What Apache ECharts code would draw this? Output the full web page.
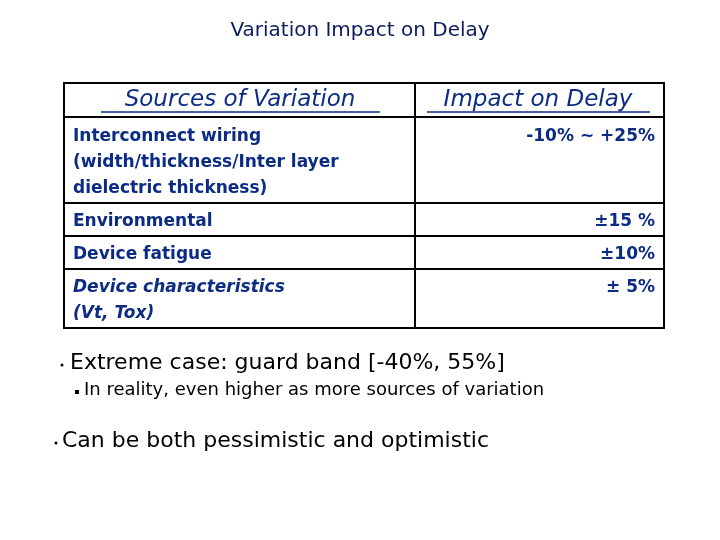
<!DOCTYPE html>
<html><head><meta charset="utf-8">
<script src="https://cdn.jsdelivr.net/npm/echarts@6/dist/echarts.min.js"></script>
<style>html,body{margin:0;padding:0;background:#fff}#main{width:720px;height:540px}</style>
</head><body><div id="main"></div>
<script>
var myChart = echarts.init(document.getElementById('main'));

var headers = ['Sources of Variation', 'Impact on Delay'];
var sources = [
    'Interconnect wiring\n(width/thickness/Inter layer\ndielectric thickness)',
    'Environmental',
    'Device fatigue',
    'Device characteristics\n(Vt, Tox)'
];
var impacts = ['-10% ~ +25%', '±15 %', '±10%', '± 5%'];
var bullets = ['Extreme case: guard band [-40%, 55%]', 'In reality, even higher as more sources of variation', 'Can be both pessimistic and optimistic'];

var blue = '#0c2c84';
var L = 64, R = 664, M = 415, T = 83;
var lines = [117, 203, 236, 269, 328];
var els = [];

// table frame
els.push({type: 'rect', shape: {x: L, y: T, width: R - L, height: lines[4] - T}, style: {fill: 'none', stroke: '#000', lineWidth: 2}});
els.push({type: 'line', shape: {x1: M, y1: T, x2: M, y2: lines[4]}, style: {stroke: '#000', lineWidth: 2}});
lines.slice(0, 4).forEach(function (y) {
    els.push({type: 'line', shape: {x1: L, y1: y, x2: R, y2: y}, style: {stroke: '#000', lineWidth: 2}});
});

// header
var hx = [240, 538];
headers.forEach(function (h, i) {
    els.push({type: 'text', x: hx[i], y: 100, style: {text: h, fill: blue, font: 'italic 23px "DejaVu Sans"', align: 'center', verticalAlign: 'middle'}});
});
els.push({type: 'line', shape: {x1: 101, y1: 112, x2: 380, y2: 112}, style: {stroke: blue, lineWidth: 1.5}});
els.push({type: 'line', shape: {x1: 427, y1: 112, x2: 650, y2: 112}, style: {stroke: blue, lineWidth: 1.5}});

// rows
var rowTop = [124, 209, 242, 275];
sources.forEach(function (s, i) {
    els.push({type: 'text', x: 73, y: rowTop[i], style: {text: s, fill: blue, font: (i === 3 ? 'italic ' : '') + 'bold 17px "DejaVu Sans"', lineHeight: 26, verticalAlign: 'top'}});
    els.push({type: 'text', x: 655, y: rowTop[i], style: {text: impacts[i], fill: blue, font: 'bold 17px "DejaVu Sans"', lineHeight: 26, align: 'right', verticalAlign: 'top'}});
});

// bullets
var by = [363, 390, 441], bx = [70, 84, 62], bs = [22, 18, 22], dx = [62, 77, 56];
bullets.forEach(function (b, i) {
    if (i === 1) {
        els.push({type: 'rect', shape: {x: dx[i] - 2, y: by[i], width: 4, height: 4}, style: {fill: '#000'}});
    } else {
        els.push({type: 'circle', shape: {cx: dx[i], cy: by[i] + 2, r: 1.5}, style: {fill: '#000'}});
    }
    els.push({type: 'text', x: bx[i], y: by[i], style: {text: b, fill: '#000', font: bs[i] + 'px "DejaVu Sans"', verticalAlign: 'middle'}});
});

var option = {
    title: {
        text: 'Variation Impact on Delay',
        left: 'center', top: 16,
        textStyle: {color: '#0c1c5c', fontSize: 20, fontWeight: 'normal', fontFamily: 'DejaVu Sans'}
    },
    graphic: els
};
myChart.setOption(option);
</script></body></html>
